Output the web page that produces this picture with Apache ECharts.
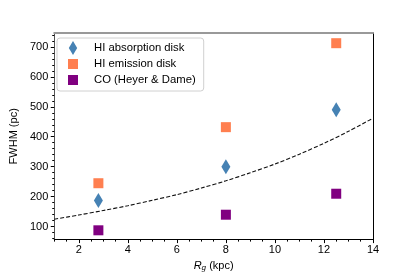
<!DOCTYPE html>
<html>
<head>
<meta charset="utf-8">
<script src="https://cdn.jsdelivr.net/npm/echarts@6/dist/echarts.min.js"></script>
<style>html,body{margin:0;padding:0;background:#fff}#c{width:415px;height:277px}</style>
</head>
<body>
<div id="c"></div>
<script>
// ---- data ----
const radii = [2.8, 8.0, 12.5];
const hiAbsorption = [187, 300, 490];
const hiEmission = [245, 432, 712];
const coHeyerDame = [88, 140, 210];
const modelR = [1, 2, 3, 4, 5, 6, 7, 8, 9, 10, 11, 12, 13, 14];
const modelFWHM = [125, 139, 154, 170, 188, 207, 229, 253, 280, 309, 342, 378, 418, 462];
const xTickLabels = [2, 4, 6, 8, 10, 12, 14];
const yTickLabels = [100, 200, 300, 400, 500, 600, 700];

const xMinor = [];
for (let v = 1; v <= 14.001; v += 0.5) { if (Math.abs(v / 2 - Math.round(v / 2)) > 1e-6) xMinor.push(v); }
const yMinor = [];
for (let v = 60; v <= 740; v += 20) { if (v % 100 !== 0) yMinor.push(v); }

const font = 'Liberation Sans, Arial, Helvetica, sans-serif';
const pair = (xs, ys) => xs.map((x, i) => [x, ys[i]]);

const XMIN = 1, XMAX = 14, YMIN = 57, YMAX = 746;

const chart = echarts.init(document.getElementById('c'), null, {renderer: 'canvas'});
chart.setOption({
  animation: false,
  backgroundColor: '#fff',
  grid: {left: 52, right: 42, top: 33, bottom: 35, containLabel: false},
  legend: {
    left: 57, top: 38, orient: 'vertical',
    itemWidth: 14, itemHeight: 14, itemGap: 2,
    padding: [3, 8, 4, 9],
    borderColor: '#d0d0d0', borderWidth: 1, borderRadius: 3,
    backgroundColor: 'rgba(255,255,255,0.8)',
    symbolKeepAspect: true,
    textStyle: {fontFamily: font, fontSize: 11.3, color: '#000', padding: [0, 0, 0, 9]},
    data: [
      {name: 'HI absorption disk', icon: 'path://M0,0M14,15M7,0L11.5,7.5L7,15L2.5,7.5Z'},
      {name: 'HI emission disk', icon: 'path://M0,0M14,14M2,2L12,2L12,12L2,12Z'},
      {name: 'CO (Heyer & Dame)', icon: 'path://M0,0M14,14M2,2L12,2L12,12L2,12Z'}
    ]
  },
  xAxis: [
    {
      type: 'value', min: XMIN, max: XMAX, position: 'bottom',
      axisLine: {show: true, onZero: false, lineStyle: {color: '#000', width: 1}},
      axisTick: {show: true, inside: false, length: 3.5, customValues: xTickLabels, lineStyle: {color: '#000'}},
      axisLabel: {customValues: xTickLabels, margin: 5, fontFamily: font, fontSize: 11, color: '#000'},
      splitLine: {show: false},
      name: '{i|R}{s|g} (kpc)', nameLocation: 'middle', nameGap: 19,
      nameTextStyle: {
        fontFamily: font, fontSize: 11, color: '#000',
        rich: {
          i: {fontFamily: font, fontSize: 11, fontStyle: 'italic', color: '#000'},
          s: {fontFamily: font, fontSize: 8, fontStyle: 'italic', color: '#000', verticalAlign: 'bottom', padding: [4, 0, 0, 0]}
        }
      }
    },
    {
      type: 'value', min: XMIN, max: XMAX, position: 'bottom',
      axisLine: {show: false, onZero: false},
      axisTick: {show: true, length: 2, customValues: xMinor, lineStyle: {color: '#000'}},
      axisLabel: {show: false},
      splitLine: {show: false}
    },
    {
      type: 'value', min: XMIN, max: XMAX, position: 'top',
      axisLine: {show: true, onZero: false, lineStyle: {color: '#999', width: 2}},
      axisTick: {show: false}, axisLabel: {show: false}, splitLine: {show: false}
    }
  ],
  yAxis: [
    {
      type: 'value', min: YMIN, max: YMAX, position: 'left',
      axisLine: {show: true, onZero: false, lineStyle: {color: '#555', width: 1}},
      axisTick: {show: true, length: 3.5, customValues: yTickLabels, lineStyle: {color: '#000'}},
      axisLabel: {customValues: yTickLabels, margin: 6, fontFamily: font, fontSize: 11, color: '#000'},
      splitLine: {show: false},
      name: 'FWHM (pc)', nameLocation: 'middle', nameGap: 27, nameRotate: 90,
      nameTextStyle: {fontFamily: font, fontSize: 11, color: '#000'}
    },
    {
      type: 'value', min: YMIN, max: YMAX, position: 'left',
      axisLine: {show: false, onZero: false},
      axisTick: {show: true, length: 2, customValues: yMinor, lineStyle: {color: '#000'}},
      axisLabel: {show: false}, splitLine: {show: false}
    },
    {
      type: 'value', min: YMIN, max: YMAX, position: 'right',
      axisLine: {show: true, onZero: false, lineStyle: {color: '#000', width: 1}},
      axisTick: {show: false}, axisLabel: {show: false}, splitLine: {show: false}
    }
  ],
  series: [
    {
      name: 'model', type: 'line', xAxisIndex: 0, yAxisIndex: 0,
      data: pair(modelR, modelFWHM), smooth: 0.3, showSymbol: false, symbol: 'none',
      lineStyle: {color: '#111', width: 1.1, type: [4, 2]}, z: 1, silent: true
    },
    {
      name: 'HI absorption disk', type: 'scatter', xAxisIndex: 0, yAxisIndex: 0,
      data: pair(radii, hiAbsorption), symbol: 'diamond', symbolSize: [9, 15],
      itemStyle: {color: '#4682b4', opacity: 1}, z: 3
    },
    {
      name: 'HI emission disk', type: 'scatter', xAxisIndex: 0, yAxisIndex: 0,
      data: pair(radii, hiEmission), symbol: 'rect', symbolSize: 10,
      itemStyle: {color: '#ff7f50', opacity: 1}, z: 3
    },
    {
      name: 'CO (Heyer & Dame)', type: 'scatter', xAxisIndex: 0, yAxisIndex: 0,
      data: pair(radii, coHeyerDame), symbol: 'rect', symbolSize: 10,
      itemStyle: {color: '#800080', opacity: 1}, z: 3
    }
  ]
});
</script>
</body>
</html>
